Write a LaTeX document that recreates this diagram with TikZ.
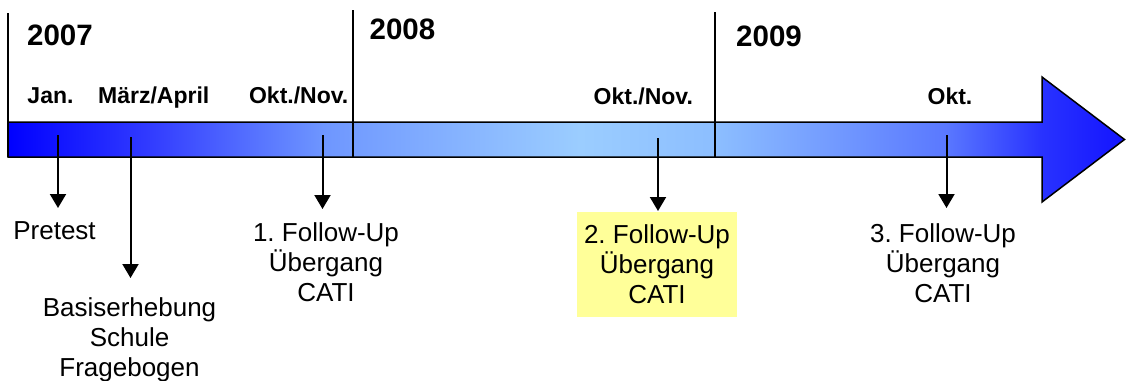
\documentclass[tikz,border=0pt]{standalone}
\usepackage{fontspec}
\setmainfont{Liberation Sans}
\usetikzlibrary{arrows.meta}
\frenchspacing
\definecolor{deepblue}{RGB}{0,0,255}
\definecolor{paleyellow}{RGB}{255,255,153}
\pgfdeclarehorizontalshading{timelineshade}{100bp}{%
  rgb(0bp)=(0,0,1);
  rgb(25bp)=(0,0,1);
  rgb(31.4bp)=(0.196,0.235,1);
  rgb(39.1bp)=(0.431,0.588,1);
  rgb(50.6bp)=(0.608,0.804,1);
  rgb(56.7bp)=(0.549,0.745,1);
  rgb(67bp)=(0.353,0.471,1);
  rgb(71.3bp)=(0.157,0.196,1);
  rgb(75bp)=(0.078,0.078,1);
  rgb(100bp)=(0.078,0.078,1)}
\tikzset{
  yearlbl/.style={font=\fontsize{29.5}{34}\selectfont\bfseries, anchor=base, inner sep=0pt},
  monthlbl/.style={font=\fontsize{23}{27}\selectfont\bfseries, anchor=base, inner sep=0pt},
  eventlbl/.style={font=\fontsize{26}{30}\selectfont, align=center, inner sep=0pt},
  yearline/.style={line width=1.3pt, black},
  tickarrow/.style={line width=2pt, -{Triangle[width=16pt,length=14pt]}},
}
\begin{document}
\begin{tikzpicture}[x=1pt,y=-1pt]
\useasboundingbox (0,0) rectangle (1126,380);
% main arrow
\draw[line width=1.5pt, shading=timelineshade]
  (8,122) -- (1042,122) -- (1042,77) -- (1124.5,139.5) -- (1042,202) -- (1042,157) -- (8,157) -- cycle;
% year lines
\coordinate (y0t) at (8,13);  \coordinate (y0b) at (8,157);
\coordinate (y1t) at (353,10); \coordinate (y1b) at (353,157);
\coordinate (y2t) at (715,12); \coordinate (y2b) at (715,157);
\draw[line width=2.5pt] (y0t) -- (y0b);
\draw[yearline] (y1t) -- (y1b);
\draw[yearline] (y2t) -- (y2b);
% years
\node[yearlbl] (yr2007) at (60,45) {2007};
\node[yearlbl] (yr2008) at (402.5,39.3) {2008};
\node[yearlbl] (yr2009) at (769,46) {2009};
% months
\node[monthlbl] (mJan) at (50.5,103.5) {Jan.};
\node[monthlbl] (mMar) at (153.7,103.5) {März/April};
\node[monthlbl] (mOkt1) at (298.7,103.5) {Okt./Nov.};
\node[monthlbl] (mOkt2) at (643.3,104) {Okt./Nov.};
\node[monthlbl] (mOkt3) at (950,104) {Okt.};
% tick arrows
\coordinate (t1s) at (58,135);    \coordinate (t1e) at (58,208);
\coordinate (t2s) at (130.5,137); \coordinate (t2e) at (130.5,278);
\coordinate (t3s) at (322.5,135); \coordinate (t3e) at (322.5,209);
\coordinate (t4s) at (658,138);   \coordinate (t4e) at (658,211);
\coordinate (t5s) at (946.5,135); \coordinate (t5e) at (946.5,208);
\draw[tickarrow] (t1s) -- (t1e);
\draw[tickarrow] (t2s) -- (t2e);
\draw[tickarrow] (t3s) -- (t3e);
\draw[tickarrow] (t4s) -- (t4e);
\draw[tickarrow] (t5s) -- (t5e);
% events
\node[eventlbl, anchor=base] (pre) at (54.5,239) {Pretest};
\node[eventlbl, anchor=north] (basis) at (129.5,297) {Basiserhebung\\Schule\\Fragebogen};
\node[eventlbl, anchor=north] (fu1) at (326,222.7) {1. Follow-Up\\Übergang\\CATI};
\node[eventlbl, fill=paleyellow, minimum width=160pt, minimum height=105pt] (fu2) at (657,264.5) {2. Follow-Up\\Übergang\\CATI};
\node[eventlbl, anchor=north] (fu3) at (943,223.3) {3. Follow-Up\\Übergang\\CATI};
\end{tikzpicture}
\end{document}
